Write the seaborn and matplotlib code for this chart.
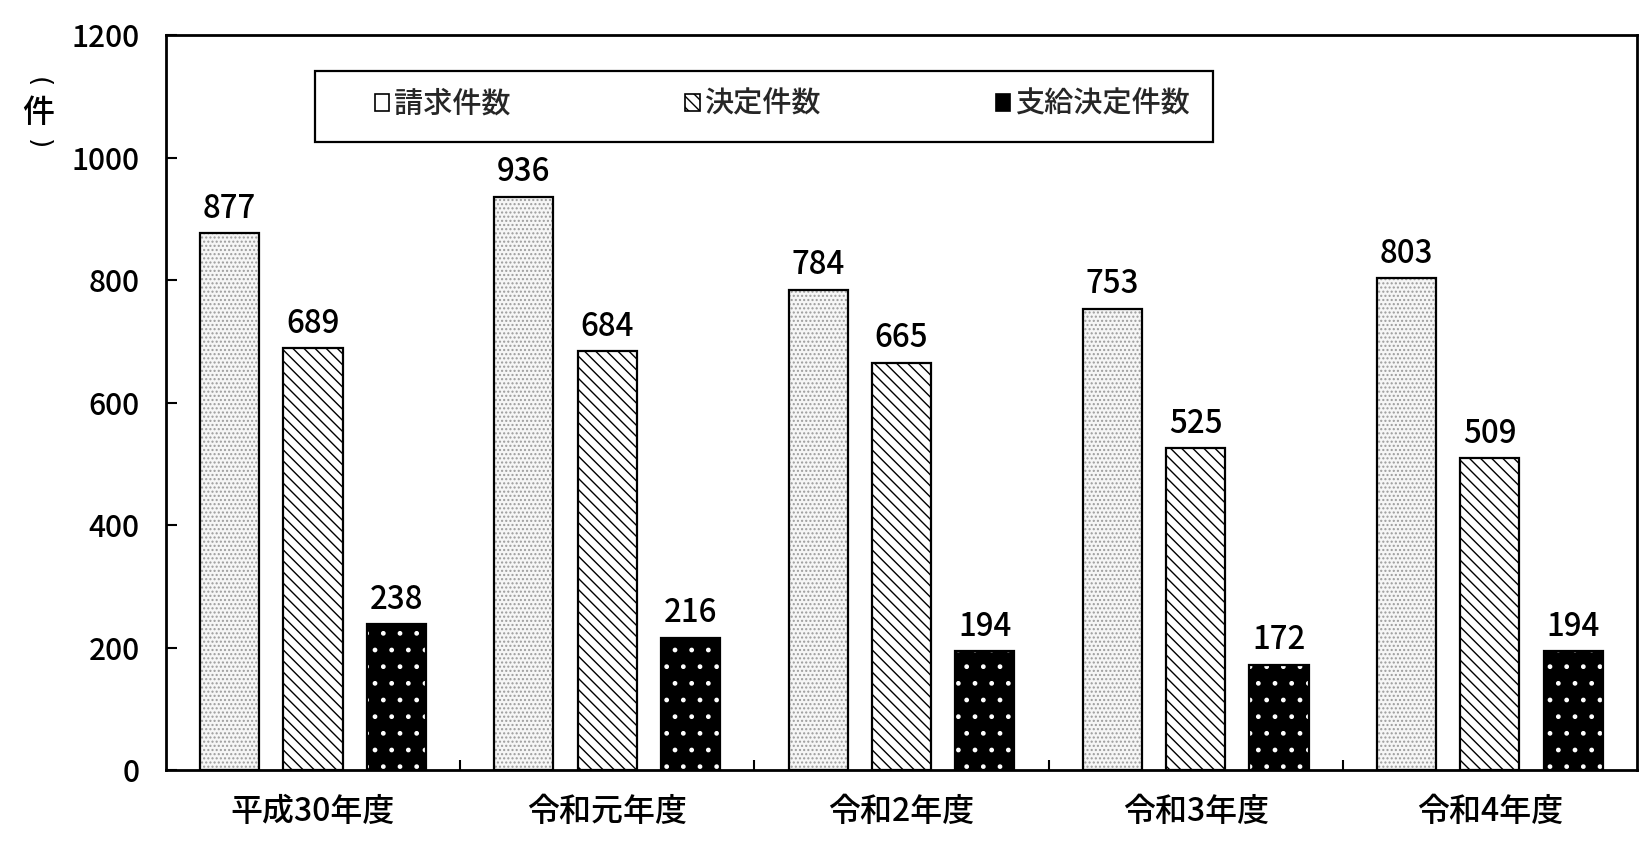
# 請求件数・決定件数・支給決定件数の推移 (bar chart)

import matplotlib
matplotlib.use('Agg')
import pandas as pd
from matplotlib import pyplot as plt
from matplotlib.patches import Rectangle, Patch
import seaborn as sns

# data
categories = ['平成30年度', '令和元年度', '令和2年度', '令和3年度', '令和4年度']
series_names = ['請求件数', '決定件数', '支給決定件数']
seikyu = [877, 936, 784, 753, 803]
kettei = [689, 684, 665, 525, 509]
shikyu = [238, 216, 194, 172, 194]
yticks = [0, 200, 400, 600, 800, 1000, 1200]

# global settings
sns.set_theme(style='white')
plt.rcParams['font.family'] = ['Noto Sans CJK JP', 'DejaVu Sans']
plt.rcParams['font.weight'] = 'medium'
plt.rcParams['hatch.linewidth'] = 1.0

df = pd.DataFrame({
    'year': categories * 3,
    'kind': [series_names[0]] * 5 + [series_names[1]] * 5 + [series_names[2]] * 5,
    'count': seikyu + kettei + shikyu,
})

# face colour, hatch, hatch colour per series
styles = [
    ('#f6f6f6', '....', '#9c9c9c'),
    ('white', '\\\\\\', 'black'),
    ('black', '.', 'white'),
]

fig = plt.figure(figsize=(16.48, 8.46), dpi=100)
ax = fig.add_axes([0.1007, 0.0898, 0.8926, 0.8688])

sns.barplot(data=df, x='year', y='count', hue='kind',
            order=categories, hue_order=series_names,
            palette=[s[0] for s in styles], saturation=1,
            width=0.85, gap=0.29, errorbar=None, legend=False,
            linewidth=0, ax=ax)

for container, (face, hatch, hc) in zip(ax.containers, styles):
    for p in container.patches:
        p.set_facecolor(face)
        p.set_edgecolor(hc)
        p.set_hatch(hatch)
        p.set_linewidth(0)
        # black outline on top
        ax.add_patch(Rectangle(p.get_xy(), p.get_width(), p.get_height(),
                               fill=False, edgecolor='black', linewidth=1.6, zorder=3))
    ax.bar_label(container, padding=6, fontsize=22.5, color='black')

ax.set_ylim(0, 1200)
ax.set_yticks(yticks)
ax.set_xlim(-0.5, len(categories) - 0.5)
ax.set(xlabel='', ylabel='')

ax.tick_params(axis='y', direction='in', length=8, width=1.5, pad=19,
               labelsize=21.5, left=True, colors='black')
ax.tick_params(axis='x', which='major', length=0, pad=19, labelsize=23, colors='black')
ax.set_xticks([i + 0.5 for i in range(len(categories) - 1)], minor=True)
ax.tick_params(axis='x', which='minor', direction='in', length=7, width=1.5,
               bottom=True, color='black')

for sp in ax.spines.values():
    sp.set_visible(True)
    sp.set_color('black')
    sp.set_linewidth(2)

# legend box with its entries
ax.add_patch(Rectangle((0.101, 0.854), 0.611, 0.097, transform=ax.transAxes,
                       facecolor='white', edgecolor='black', linewidth=1.6, zorder=4))
handles = [Patch(facecolor='white', edgecolor='black', linewidth=1.2),
           Patch(facecolor='white', edgecolor='black', hatch='\\\\\\', linewidth=1.2),
           Patch(facecolor='black', edgecolor='black', linewidth=1.2)]
leg = ax.legend(handles, series_names, ncol=3, loc='center left',
                bbox_to_anchor=(0.142, 0.906), frameon=False, fontsize=21,
                handlelength=0.5, handleheight=0.5, handletextpad=0.15,
                columnspacing=6.0, borderpad=0, borderaxespad=0)
leg.set_zorder(5)

# vertical unit label （件）: parentheses turned sideways
fig.text(38 / 1648, 0.903, '(', rotation=-90, ha='center', va='center',
         fontsize=19, family='DejaVu Sans', color='black')
fig.text(38 / 1648, 0.866, '件', ha='center', va='center',
         fontsize=23, color='black')
fig.text(38 / 1648, 0.830, ')', rotation=-90, ha='center', va='center',
         fontsize=19, family='DejaVu Sans', color='black')

fig.savefig('out.png', dpi=100)
